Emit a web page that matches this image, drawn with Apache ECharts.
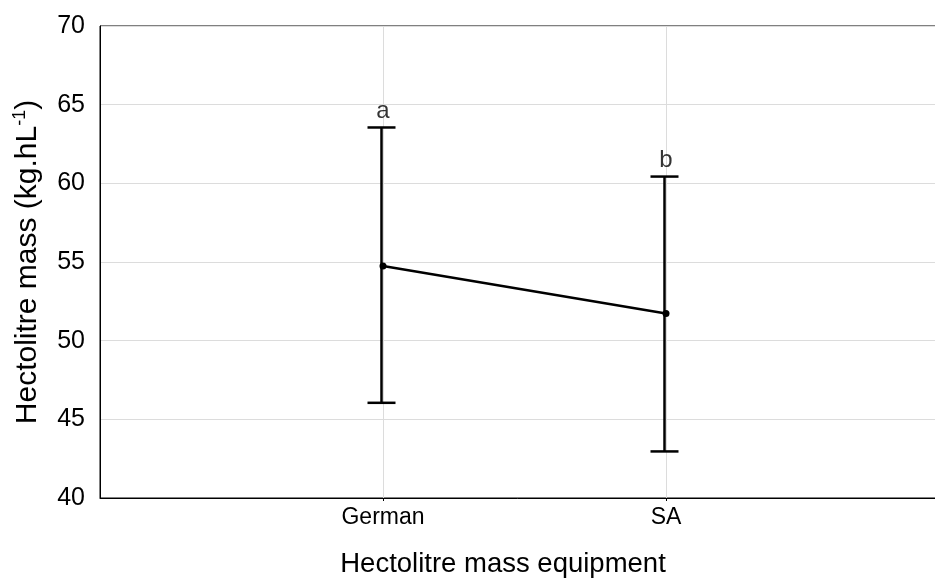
<!DOCTYPE html>
<html>
<head>
<meta charset="utf-8">
<script src="https://cdn.jsdelivr.net/npm/echarts@6/dist/echarts.min.js"></script>
<style>
html,body{margin:0;padding:0;background:#fff;}
#chart{width:935px;height:578px;}
</style>
</head>
<body>
<div id="chart"></div>
<script>
// Data
var groups = ['German', 'SA'];
var means = [54.75, 51.72];
var upper = [63.55, 60.43];
var lower = [46.05, 42.96];
var letters = ['a', 'b'];
var yTicks = [40, 45, 50, 55, 60, 65, 70];

// Pad categories so the two groups sit at 1/3 and 2/3 of the axis
var axisCats = [''].concat(groups).concat(['']);
function pad(arr) { return [null].concat(arr).concat([null]); }

var errData = groups.map(function (g, i) { return [i + 1, lower[i], upper[i], means[i]]; });
var letterData = groups.map(function (g, i) { return { value: [i + 1, upper[i]], label: { formatter: letters[i] } }; });

var FONT = 'Liberation Sans, Arial, sans-serif';
var chart = echarts.init(document.getElementById('chart'), null, { renderer: 'canvas' });
chart.setOption({
  animation: false,
  backgroundColor: '#fff',
  grid: { left: 100, top: 26, width: 849, height: 472, containLabel: false, outerBoundsMode: 'none', show: true, borderColor: '#000', borderWidth: 1, backgroundColor: 'transparent' },
  xAxis: {
    type: 'category',
    data: axisCats,
    boundaryGap: false,
    axisLine: { lineStyle: { color: '#000', width: 1 } },
    axisTick: { show: true, length: 3, inside: false, lineStyle: { color: '#000' }, interval: function (idx) { return idx === 1 || idx === 2; } },
    axisLabel: { color: '#000', fontFamily: FONT, fontSize: 23, margin: 8, interval: 0 },
    splitLine: { show: true, lineStyle: { color: '#dcdcdc', width: 1 }, interval: function (idx) { return idx === 1 || idx === 2; } },
    name: 'Hectolitre mass equipment',
    nameLocation: 'middle',
    nameGap: 52,
    nameTextStyle: { color: '#000', fontFamily: FONT, fontSize: 27.5, padding: [0, 43, 0, 0] }
  },
  yAxis: {
    type: 'value',
    min: yTicks[0],
    max: yTicks[yTicks.length - 1],
    interval: 5,
    axisLine: { show: true, lineStyle: { color: '#000', width: 1 } },
    axisTick: { show: false },
    axisLabel: { color: '#000', fontFamily: FONT, fontSize: 25, margin: 15, padding: [0, 0, 6, 0] },
    splitLine: { show: true, lineStyle: { color: '#dcdcdc', width: 1 } },
    name: 'Hectolitre mass (kg.hL{sup|-1})',
    nameLocation: 'middle',
    nameGap: 55,
    nameTextStyle: {
      color: '#000', fontFamily: FONT, fontSize: 30,
      rich: { sup: { fontFamily: FONT, fontSize: 18, color: '#000', verticalAlign: 'top', padding: [0, 0, 16, 0] } }
    }
  },
  series: [
    {
      type: 'custom',
      renderItem: function (params, api) {
        var x = api.value(0);
        var lo = api.coord([x, api.value(1)]);
        var hi = api.coord([x, api.value(2)]);
        var hw = 14;
        var style = { stroke: '#000', lineWidth: 2.5 };
        return {
          type: 'group',
          children: [
            { type: 'line', shape: { x1: lo[0] - 1.5, y1: lo[1], x2: hi[0] - 1.5, y2: hi[1] }, style: style },
            { type: 'line', shape: { x1: lo[0] - 1.5 - hw, y1: lo[1], x2: lo[0] - 1.5 + hw, y2: lo[1] }, style: style },
            { type: 'line', shape: { x1: hi[0] - 1.5 - hw, y1: hi[1], x2: hi[0] - 1.5 + hw, y2: hi[1] }, style: style }
          ]
        };
      },
      encode: { x: 0, y: [1, 2] },
      data: errData,
      z: 3
    },
    {
      type: 'line',
      data: pad(means),
      lineStyle: { color: '#000', width: 2.5 },
      itemStyle: { color: '#000' },
      symbol: 'circle',
      symbolSize: 7,
      showSymbol: true,
      z: 4
    },
    {
      type: 'scatter',
      data: letterData,
      symbolSize: 0,
      itemStyle: { color: 'transparent' },
      label: { show: true, position: 'top', distance: 4, color: '#000', fontFamily: FONT, fontSize: 24 },
      z: 5
    }
  ]
});
</script>
</body>
</html>
